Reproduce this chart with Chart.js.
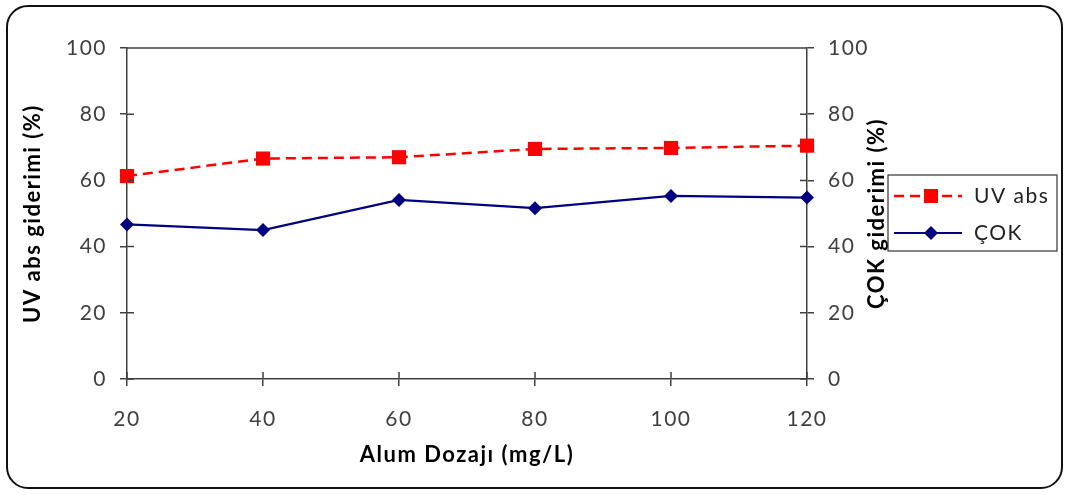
<!DOCTYPE html>
<html>
<head>
<meta charset="utf-8">
<script src="https://cdn.jsdelivr.net/npm/chart.js@4/dist/chart.umd.min.js"></script>
<style>
  html, body { margin: 0; padding: 0; background: #fff; }
  #wrap { position: relative; width: 1070px; height: 495px; }
  #frame {
    position: absolute; left: 6px; top: 5px; width: 1053px; height: 480px;
    border: 2px solid #111; border-radius: 22px; pointer-events: none;
  }
  canvas { position: absolute; left: 0; top: 0; }
</style>
</head>
<body>
<div id="wrap">
  <canvas id="chart" width="1070" height="495"></canvas>
  <div id="frame"></div>
</div>
<script>
/* ---------- Data ---------- */
const doses = ["20", "40", "60", "80", "100", "120"];   // Alum Dozajı (mg/L)
const uvAbs = [61.3, 66.6, 67.0, 69.5, 69.8, 70.5];     // UV abs giderimi (%)
const cok   = [46.7, 45.0, 54.1, 51.6, 55.3, 54.8];     // ÇOK giderimi (%)
const yTicks = [0, 20, 40, 60, 80, 100];

const FONT = "Lato, 'Open Sans', sans-serif";
const AXIS = "#404040";
const TICK = 7;

/* ---------- Helpers ---------- */
const axisFont = { family: FONT, size: 21 };
const titleFont = { family: FONT, size: 22, weight: "bold" };

// the original text is set rather wide; loosen the canvas text a bit
const wideText = {
  id: "wideText",
  beforeLayout(chart) { chart.ctx.letterSpacing = "1.5px"; },
  beforeDraw(chart) { chart.ctx.letterSpacing = "1.5px"; }
};

// ticks that cross the axis line (Chart.js only draws the outer half)
const crossTicks = {
  id: "crossTicks",
  afterDraw(chart) {
    const { ctx, chartArea: a, scales } = chart;
    ctx.save();
    ctx.strokeStyle = AXIS;
    ctx.lineWidth = 1.5;
    ctx.beginPath();
    yTicks.forEach(v => {
      const y = scales.y.getPixelForValue(v);
      ctx.moveTo(a.left, y); ctx.lineTo(a.left + TICK, y);
      const y1 = scales.y1.getPixelForValue(v);
      ctx.moveTo(a.right, y1); ctx.lineTo(a.right - TICK, y1);
    });
    doses.forEach((d, i) => {
      const x = scales.x.getPixelForValue(i);
      ctx.moveTo(x, a.bottom); ctx.lineTo(x, a.bottom - TICK);
    });
    // plot area top border
    ctx.moveTo(a.left, a.top); ctx.lineTo(a.right, a.top);
    ctx.stroke();

    // secondary axis title, reading bottom to top like the primary one
    ctx.fillStyle = "#000";
    ctx.font = `bold 22px ${FONT}`;
    ctx.textAlign = "center";
    ctx.textBaseline = "middle";
    ctx.translate(877, (a.top + a.bottom) / 2);
    ctx.rotate(-Math.PI / 2);
    ctx.fillText("ÇOK giderimi (%)", 0, 0);
    ctx.restore();
  }
};

// Excel-style legend box: line sample with marker in the middle
const boxLegend = {
  id: "boxLegend",
  afterDraw(chart) {
    const { ctx } = chart;
    const bx = 888, by = 175, bw = 169, bh = 76;
    ctx.save();
    ctx.fillStyle = "#fff";
    ctx.fillRect(bx, by, bw, bh);
    ctx.strokeStyle = "#333";
    ctx.lineWidth = 1.2;
    ctx.strokeRect(bx, by, bw, bh);

    chart.data.datasets.forEach((ds, i) => {
      const y = by + 21 + i * 37;
      ctx.strokeStyle = ds.borderColor;
      ctx.lineWidth = ds.borderWidth;
      ctx.setLineDash(ds.borderDash || []);
      ctx.beginPath();
      ctx.moveTo(894, y); ctx.lineTo(962, y);
      ctx.stroke();
      ctx.setLineDash([]);
      ctx.fillStyle = ds.pointBackgroundColor;
      ctx.beginPath();
      if (ds.pointStyle === "rect") {
        ctx.rect(924, y - 7, 14, 14);
      } else {
        const r = 7;
        ctx.moveTo(931 - r, y); ctx.lineTo(931, y - r);
        ctx.lineTo(931 + r, y); ctx.lineTo(931, y + r);
        ctx.closePath();
      }
      ctx.fill();
      ctx.fillStyle = "#222";
      ctx.font = `21px ${FONT}`;
      ctx.textAlign = "left";
      ctx.textBaseline = "middle";
      ctx.fillText(ds.label, 974, y);
    });
    ctx.restore();
  }
};

/* ---------- Chart ---------- */
const yScale = (position, title) => ({
  type: "linear",
  position,
  min: 0, max: 100,
  afterBuildTicks: s => { s.ticks = yTicks.map(v => ({ value: v })); },
  afterFit: s => { s.width = position === "left" ? 127 : 263; },
  border: { display: true, color: AXIS, width: 1.5 },
  grid: { display: true, drawOnChartArea: false, drawTicks: true, tickLength: TICK, color: AXIS, lineWidth: 1.5 },
  ticks: { font: axisFont, color: AXIS, padding: position === "left" ? 13 : 14 },
  title: title
    ? { display: true, text: title, font: titleFont, color: "#000", padding: { top: 20, bottom: 0 } }
    : { display: false }
});

new Chart(document.getElementById("chart"), {
  type: "line",
  data: {
    labels: doses,
    datasets: [
      {
        label: "UV abs",
        data: uvAbs,
        yAxisID: "y",
        borderColor: "#ff0000",
        borderWidth: 2.5,
        borderDash: [10, 6],
        pointStyle: "rect",
        pointRadius: 10,
        pointBackgroundColor: "#ff0000",
        pointBorderColor: "#ff0000",
        pointBorderWidth: 0,
        tension: 0
      },
      {
        label: "ÇOK",
        data: cok,
        yAxisID: "y1",
        borderColor: "#000080",
        borderWidth: 2.2,
        pointStyle: "rectRot",
        pointRadius: 7,
        pointBackgroundColor: "#000080",
        pointBorderColor: "#000080",
        pointBorderWidth: 0,
        tension: 0
      }
    ]
  },
  options: {
    responsive: false,
    animation: false,
    layout: { padding: { left: 0, right: 0, top: 48, bottom: 0 } },
    plugins: { legend: { display: false }, tooltip: { enabled: false } },
    scales: {
      x: {
        type: "category",
        offset: false,
        afterFit: s => { s.height = 116; },
        border: { display: true, color: AXIS, width: 1.5 },
        grid: { display: true, drawOnChartArea: false, drawTicks: true, tickLength: TICK, color: AXIS, lineWidth: 1.5 },
        ticks: { font: axisFont, color: AXIS, padding: 21, maxRotation: 0 },
        title: { display: true, text: "Alum Dozajı (mg/L)", font: titleFont, color: "#000", padding: { top: 0, bottom: 27 } }
      },
      y: yScale("left", "UV abs giderimi (%)"),
      y1: yScale("right", null)
    }
  },
  plugins: [wideText, crossTicks, boxLegend]
});
</script>
</body>
</html>
